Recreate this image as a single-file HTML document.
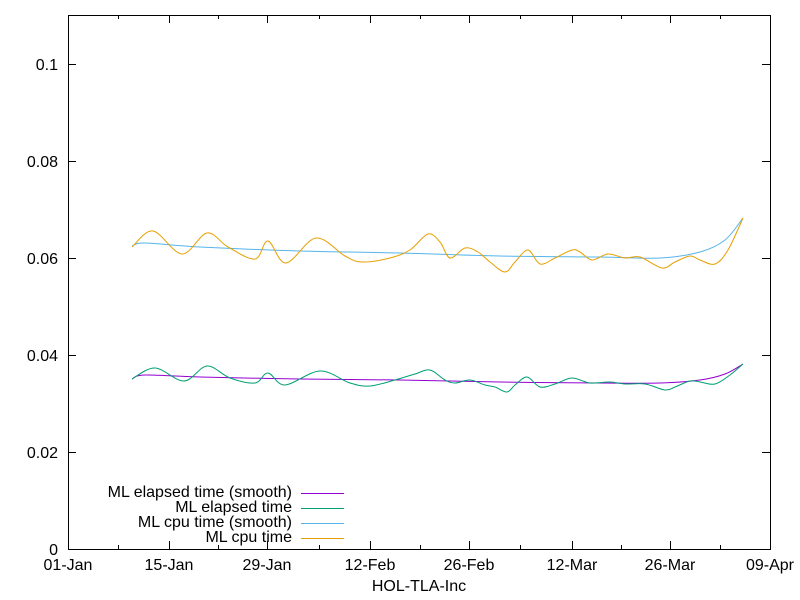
<!DOCTYPE html>
<html><head><meta charset="utf-8"><style>body{margin:0;background:#fff}svg{display:block}text{font-family:"Liberation Sans",sans-serif;font-size:16px;fill:#000}</style></head>
<body>
<svg id="s" width="800" height="600" xmlns="http://www.w3.org/2000/svg">
<rect width="800" height="600" fill="#fff"/>
<g stroke="#000" stroke-width="1" fill="none">
<rect x="68.5" y="15.5" width="702" height="534"/>
<path d="M68 549.5h8M770 549.5h-8M68 452.5h8M770 452.5h-8M68 355.5h8M770 355.5h-8M68 258.5h8M770 258.5h-8M68 161.5h8M770 161.5h-8M68 64.5h8M770 64.5h-8"/>
<path d="M68.5 549v-8M68.5 15v8M169.5 549v-8M169.5 15v8M267.5 549v-8M267.5 15v8M370.5 549v-8M370.5 15v8M469.5 549v-8M469.5 15v8M572.5 549v-8M572.5 15v8M670.5 549v-8M670.5 15v8M770.5 549v-8M770.5 15v8"/>
<path d="M118.5 549v-4M118.5 15v4M218.5 549v-4M218.5 15v4M319.5 549v-4M319.5 15v4M420.5 549v-4M420.5 15v4M520.5 549v-4M520.5 15v4M621.5 549v-4M621.5 15v4M720.5 549v-4M720.5 15v4"/>
</g>
<g text-anchor="end">
<text x="58" y="555">0</text><text x="58" y="458">0.02</text><text x="58" y="361">0.04</text><text x="58" y="264">0.06</text><text x="58" y="167">0.08</text><text x="58" y="70">0.1</text>
</g>
<g text-anchor="middle">
<text x="68" y="570">01-Jan</text><text x="169" y="570">15-Jan</text><text x="267" y="570">29-Jan</text><text x="370" y="570">12-Feb</text><text x="469" y="570">26-Feb</text><text x="572" y="570">12-Mar</text><text x="670" y="570">26-Mar</text><text x="770" y="570">09-Apr</text>
<text x="419" y="591">HOL-TLA-Inc</text>
</g>
<g id="curves" fill="none" stroke-width="1" stroke-linejoin="round"></g>
<g text-anchor="end">
<text x="292" y="497">ML elapsed time (smooth)</text>
<text x="292" y="512">ML elapsed time</text>
<text x="292" y="527">ML cpu time (smooth)</text>
<text x="292" y="542">ML cpu time</text>
</g>
<path d="M301 493.5h43" stroke="#9400d3" fill="none"/>
<path d="M301 508.5h43" stroke="#009e73" fill="none"/>
<path d="M301 523.5h43" stroke="#56b4e9" fill="none"/>
<path d="M301 538.5h43" stroke="#e69f00" fill="none"/>
</svg>
<script>
function cr(p){var d="M"+p[0][0]+" "+p[0][1];for(var i=0;i<p.length-1;i++){var a=p[Math.max(i-1,0)],b=p[i],c=p[i+1],e=p[Math.min(i+2,p.length-1)];d+=" C"+(b[0]+(c[0]-a[0])/6)+" "+(b[1]+(c[1]-a[1])/6)+" "+(c[0]-(e[0]-b[0])/6)+" "+(c[1]-(e[1]-b[1])/6)+" "+c[0]+" "+c[1];}return d;}
var S={
"#56b4e9":[[132,246],[145,243],[200,247],[300,251],[400,253],[500,256],[600,257],[660,258],[700,252],[725,240],[743,218]],
"#e69f00":[[132,247],[153,231],[182,254],[207,233],[228,247],[255,259],[268,241],[286,263],[316,238],[345,256],[362,262],[390,258],[410,250],[428,234],[440,242],[450,258],[465,248],[478,252],[490,262],[505,272],[515,262],[528,250],[540,264],[555,258],[572,250],[580,252],[592,260],[608,254],[625,258],[640,257],[662,268],[675,262],[690,256],[700,260],[715,264],[728,250],[743,218]],
"#9400d3":[[132,379],[145,375],[200,377],[300,379],[400,380],[500,382],[600,383],[660,383],[700,380],[725,374],[743,364]],
"#009e73":[[132,379],[155,368],[184,381],[207,366],[230,378],[255,383],[268,373],[285,385],[320,371],[350,383],[370,386],[395,380],[415,374],[430,370],[445,380],[455,383],[470,380],[485,385],[495,387],[507,392],[515,385],[527,377],[540,387],[555,384],[572,378],[590,383],[610,382],[625,384],[645,384],[665,390],[675,387],[690,381],[700,382],[715,384],[730,375],[743,364]]};
var g=document.getElementById("curves");
for(var k in S){var p=document.createElementNS("http://www.w3.org/2000/svg","path");p.setAttribute("d",cr(S[k]));p.setAttribute("stroke",k);g.appendChild(p);}
</script>
</body></html>
